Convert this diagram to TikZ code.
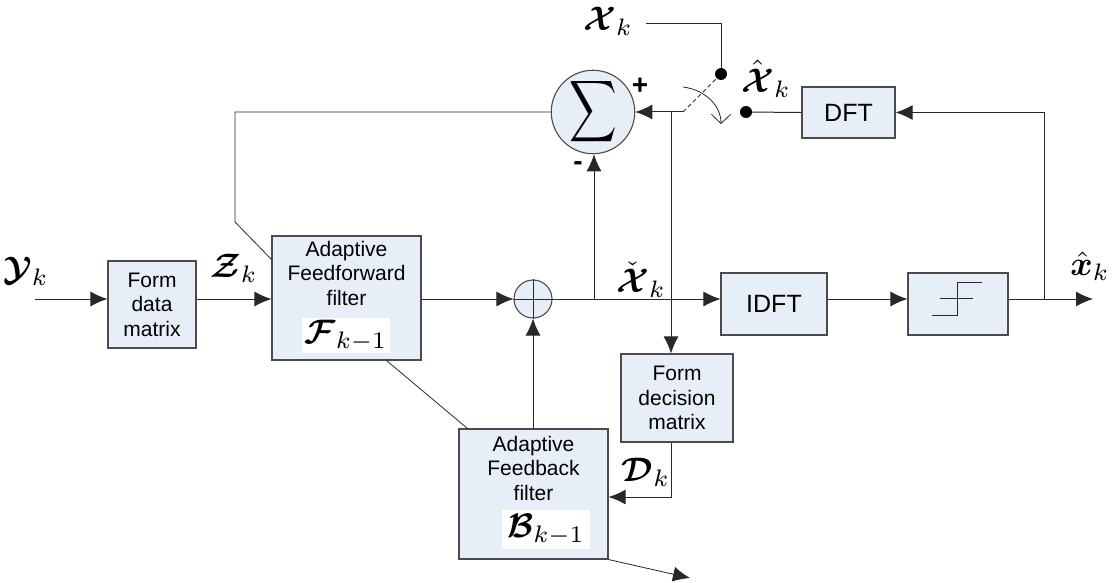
\documentclass[tikz,border=0pt]{standalone}
\usepackage{amsmath,bm}
\usepackage{graphicx}
\usepackage{fontspec}
\setsansfont{Liberation Sans}
\usetikzlibrary{arrows.meta,calc}

\definecolor{boxfill}{RGB}{231,238,247}
\definecolor{edge}{RGB}{75,75,75}
\definecolor{wire}{RGB}{40,40,40}

% math labels are set at 10pt and enlarged
\newcommand\biglab[1]{\scalebox{3.4}{$#1$}}

\tikzset{
  blk/.style={draw=edge, fill=boxfill, line width=1.1pt, inner sep=0pt,
    align=center, font=\sffamily\fontsize{21}{24.5}\selectfont},
  btxt/.style={align=center, inner sep=0pt, font=\sffamily\fontsize{21}{24.5}\selectfont},
  wbox/.style={fill=white, inner sep=0pt},
  mlab/.style={inner sep=0pt},
  wirestyle/.style={draw=wire, line width=1pt},
  arr/.style={wirestyle, -{Latex[length=17pt,width=15pt]}},
  dot/.style={circle, fill=black, minimum size=12pt, inner sep=0pt},
  sgn/.style={inner sep=0pt, font=\sffamily\bfseries\fontsize{28}{30}\selectfont},
}

\begin{document}
\begin{tikzpicture}[x=1pt,y=-1pt]
\useasboundingbox (0,0) rectangle (1117,583);

% processing blocks
\node[blk, minimum width=88pt, minimum height=87pt] (fdm) at (152,304.5) {Form\\data\\matrix};
\node[blk, minimum width=149pt, minimum height=124pt] (ff) at (346.5,298) {};
\node[btxt] (fftxt) at (346.5,273) {Adaptive\\Feedforward\\filter};
\node[wbox, minimum width=88pt, minimum height=35pt] (ffF) at (346,335.5) {\biglab{\bm{\mathcal{F}}_{k-1}}};

\node[blk, minimum width=149pt, minimum height=130pt] (fb) at (533.5,494) {};
\node[btxt] (fbtxt) at (533.5,468) {Adaptive\\Feedback\\filter};
\node[wbox, minimum width=88pt, minimum height=39pt] (fbB) at (546,529.5) {\biglab{\bm{\mathcal{B}}_{k-1}}};

\node[blk, minimum width=112pt, minimum height=88pt] (fdec) at (677,398) {Form\\decision\\matrix};
\node[blk, minimum width=106pt, minimum height=62pt, font=\sffamily\fontsize{25}{28}\selectfont] (idft) at (774,304) {IDFT};
\node[blk, minimum width=100pt, minimum height=62pt] (quant) at (958,304) {};
\node[blk, minimum width=93pt, minimum height=51pt, font=\sffamily\fontsize{25}{28}\selectfont] (dft) at (848.5,112.5) {DFT};

% hard-decision staircase
\draw[wirestyle, line width=0.9pt] (932,315) -- (957,315) -- (957,282) -- (982,282);
\draw[wirestyle, line width=0.9pt] (940,298) -- (973,298);

% summing junctions
\node[circle, draw=edge, fill=boxfill, line width=1.1pt, minimum size=74pt, inner sep=0pt] (sum) at (593,112) {\scalebox{3.3}[4.3]{$\displaystyle\sum$}};
\node[circle, draw=edge, fill=boxfill, line width=1.1pt, minimum size=38pt, inner sep=0pt] (plus) at (533,299) {};
\draw[wirestyle] (plus.north) -- (plus.south) (plus.west) -- (plus.east);

% switch contacts
\node[dot] (d1) at (721,74) {};
\node[dot] (d2) at (746,112) {};

% junction points
\coordinate (yin) at (35,299);
\coordinate (out) at (1093,299);
\coordinate (sw) at (683,112);
\coordinate (tapA) at (671,112);
\coordinate (tapB) at (594,299);
\coordinate (fbk) at (1044,299);
\coordinate (xin) at (646,24);
\coordinate (fbturn) at (671,497);
\coordinate (ffup) at (235,222);
\coordinate (fftop) at (235,112);
\coordinate (outB) at (690,578);

% forward path
\draw[arr] (yin) -- (yin -| fdm.west);
\draw[arr] (fdm.east |- yin) -- (ff.west |- yin);
\draw[arr] (ff.east |- plus) -- (plus.west);
\draw[arr] (plus.east) -- (idft.west |- plus);
\draw[arr] (idft.east |- plus) -- (quant.west |- plus);
\draw[arr] (quant.east |- plus) -- (out);

% decision feedback through DFT and the switch
\draw[arr] (fbk) -- (fbk |- dft) -- (dft.east);
\draw[wirestyle] (dft.west) -- (d2);
\draw[wirestyle] (xin) -- (xin -| d1) -- (d1);
\draw[wirestyle, dash pattern=on 4pt off 3pt] (sw) -- (d1);
\draw[arr] (sw) -- (sum.east);
\draw[wirestyle, line width=0.8pt, -{Straight Barb[length=9pt,width=19pt]}]
  (683,87) .. controls (706,90) and (721,106) .. (721,124);

% error and decision taps
\draw[arr] (tapB) -- (tapB |- sum.south);
\draw[arr] (tapA) -- (tapA |- fdec.north);
\draw[arr] (fdec.south -| tapA) -- (fbturn) -- (fbturn -| fb.east);
\draw[arr] (fb.north -| plus) -- (plus.south);

% adaptation lines
\draw[wirestyle, line width=0.8pt] ([yshift=-24pt]ff.north west) -- (ffup) -- (fftop) -- (sum.west);
\draw[wirestyle, line width=0.8pt] ([xshift=40pt]ff.south) -- ([xshift=9pt]fb.north west);
\draw[arr, line width=0.8pt] (fb.south east) -- (outB);

% signal labels
\node[mlab] (lY) at (26,271) {\biglab{\bm{\mathcal{Y}}_k}};
\node[mlab] (lZ) at (234,268) {\biglab{\bm{\mathcal{Z}}_k}};
\node[mlab] (lX) at (608,21) {\biglab{\bm{\mathcal{X}}_k}};
\node[mlab] (lXh) at (766,79) {\biglab{\hat{\bm{\mathcal{X}}}_k}};
\node[mlab] (lXc) at (641,280) {\biglab{\check{\bm{\mathcal{X}}}_k}};
\node[mlab] (lxh) at (1090,266) {\biglab{\hat{\bm{x}}_k}};
\node[mlab] (lD) at (646,472) {\biglab{\bm{\mathcal{D}}_k}};
\node[sgn] (lplus) at (640,86) {+};
\node[sgn] (lminus) at (578,166) {-};
\end{tikzpicture}
\end{document}
